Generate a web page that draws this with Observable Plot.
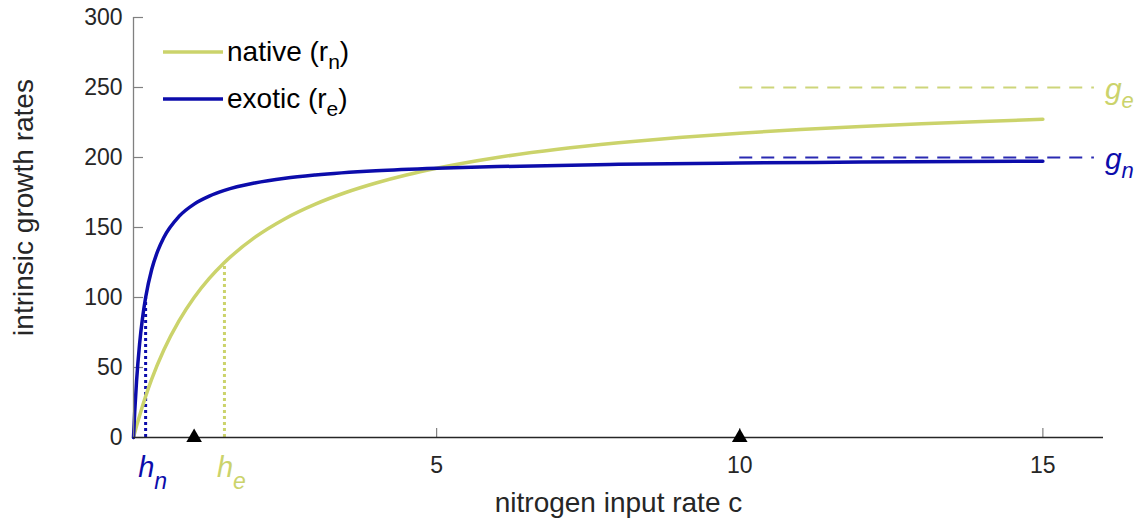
<!DOCTYPE html>
<html>
<head>
<meta charset="utf-8">
<script src="https://cdn.jsdelivr.net/npm/d3@7"></script>
<script src="https://cdn.jsdelivr.net/npm/@observablehq/plot@0.6"></script>
<style>
  html, body { margin: 0; padding: 0; background: #ffffff; }
  #chart svg { display: block; }
</style>
</head>
<body>
<div id="chart"></div>
<script>
// ---- data ----
const nativeX = [0, 0.05, 0.1, 0.2, 0.3, 0.5, 0.75, 1, 1.25, 1.5, 2, 2.5, 3, 3.5, 4, 4.5, 5, 6, 7, 8, 9, 10, 11, 12, 13, 14, 15];
const nativeY = [0, 8.1, 15.6, 29.4, 41.7, 62.5, 83.3, 100, 113.6, 125, 142.9, 156.3, 166.7, 175, 181.8, 187.5, 192.3, 200, 205.9, 210.5, 214.3, 217.4, 220, 222.2, 224.1, 225.8, 227.3];
const exoticX = [0, 0.02, 0.05, 0.1, 0.15, 0.2, 0.3, 0.4, 0.5, 0.75, 1, 1.25, 1.5, 2, 2.5, 3, 4, 5, 6, 8, 10, 12, 15];
const exoticY = [0, 18.2, 40, 66.7, 85.7, 100, 120, 133.3, 142.9, 157.9, 166.7, 172.4, 176.5, 181.8, 185.2, 187.5, 190.5, 192.3, 193.5, 195.1, 196.1, 196.7, 197.4];

const seriesNames = ["native", "exotic"];
const seriesColors = ["#cbd36b", "#0c0cab"];
const dashColors = ["#cdd57a", "#2a2ab2"];

const gLevels = [250, 200];          // asymptotes g_e, g_n
const gNames = ["g", "g"];
const gSubs = ["e", "n"];
const gStart = 10, gEnd = 15.85;

const hValues = [0.2, 1.5];          // half-saturation h_n, h_e
const hHeights = [100, 125];
const hSubs = ["n", "e"];
const hColors = ["#0c0cab", "#cbd36b"];

const markerX = [1, 10];

const xTicks = [0, 5, 10, 15];
const xTickLabels = [5, 10, 15];
const yTicks = [0, 50, 100, 150, 200, 250, 300];

const xLabel = "nitrogen input rate c";
const yLabel = "intrinsic growth rates";

// ---- tables ----
const nativeData = nativeX.map((x, i) => ({x, y: nativeY[i]}));
const exoticData = exoticX.map((x, i) => ({x, y: exoticY[i]}));
const gData = gLevels.map((y, i) => ({y, color: dashColors[i]}));
const hData = hValues.map((x, i) => ({x, h: hHeights[i], color: hColors[i]}));

const W = 1138, H = 518;
const mL = 133, mR = 35, mT = 17, mB = 81;
const innerW = W - mL - mR, innerH = H - mT - mB;
const FONT = "'Liberation Sans', Arial, Helvetica, sans-serif";

const svg = Plot.plot({
  width: W, height: H,
  marginLeft: mL, marginRight: mR, marginTop: mT, marginBottom: mB,
  style: {fontFamily: FONT, background: "#ffffff", color: "#262626", overflow: "visible"},
  x: {domain: [0, 16], label: null},
  y: {domain: [0, 300], label: null},
  marks: [
    Plot.axisY(yTicks, {tickSize: 0, tickPadding: 11, fontSize: 23, fill: "#262626", label: null}),
    Plot.axisX(xTickLabels, {tickSize: 0, tickPadding: 19, fontSize: 23, fill: "#262626", label: null}),
    Plot.tickY(yTicks, {y: d => d, stroke: "#808080", strokeWidth: 1.2, insetRight: innerW - 10}),
    Plot.tickX(xTicks, {x: d => d, stroke: "#808080", strokeWidth: 1.2, insetTop: innerH - 9}),
    Plot.ruleY(gData, {y: "y", x1: gStart, x2: gEnd, stroke: "color", strokeWidth: 2, strokeDasharray: "13,9"}),
    Plot.ruleX(hData, {x: "x", y1: 0, y2: "h", stroke: "color", strokeWidth: 3, strokeDasharray: "3,3"}),
    Plot.line(nativeData, {x: "x", y: "y", stroke: seriesColors[0], strokeWidth: 3.5, curve: "monotone-x"}),
    Plot.line(exoticData, {x: "x", y: "y", stroke: seriesColors[1], strokeWidth: 3.5, curve: "monotone-x"}),
    Plot.ruleX([0], {stroke: "#808080", strokeWidth: 1.3}),
    Plot.ruleY([0], {stroke: "#262626", strokeWidth: 1.3}),
    Plot.dot(markerX, {x: d => d, y: 0, symbol: "triangle", r: 5.8, fill: "#000000", stroke: null}),
    Plot.text([xLabel], {frameAnchor: "bottom", dy: 74, fontSize: 28, fill: "#262626"}),
    Plot.text([yLabel], {frameAnchor: "left", textAnchor: "middle", rotate: -90, dx: -109, dy: -20, fontSize: 28, fill: "#262626"})
  ]
});

const xs = svg.scale("x"), ys = svg.scale("y");
const root = d3.select(svg);

// subscripted labels g_e, g_n
gLevels.forEach((g, i) => {
  const t = root.append("text")
    .attr("text-anchor", "start")
    .attr("x", xs.apply(gEnd) + 11)
    .attr("y", ys.apply(g) + 12)
    .attr("font-family", FONT)
    .attr("font-style", "italic")
    .attr("font-size", 30)
    .attr("fill", seriesColors[i === 0 ? 0 : 1]);
  t.append("tspan").text(gNames[i]);
  t.append("tspan").attr("font-size", 22).attr("dy", 9).text(gSubs[i]);
});

// subscripted labels h_n, h_e
hValues.forEach((h, i) => {
  const t = root.append("text")
    .attr("text-anchor", "start")
    .attr("x", xs.apply(h) - 7)
    .attr("y", ys.apply(0) + 40)
    .attr("font-family", FONT)
    .attr("font-style", "italic")
    .attr("font-size", 29)
    .attr("fill", hColors[i]);
  t.append("tspan").text("h");
  t.append("tspan").attr("font-size", 23).attr("dy", 12).text(hSubs[i]);
});

// legend
const legendRows = [
  {name: "native (r", sub: "n", color: seriesColors[0], y: 52},
  {name: "exotic (r", sub: "e", color: seriesColors[1], y: 99}
];
const lg = root.append("g");
legendRows.forEach(r => {
  lg.append("line").attr("x1", 163).attr("x2", 223).attr("y1", r.y).attr("y2", r.y)
    .attr("stroke", r.color).attr("stroke-width", 3.5);
  const t = lg.append("text").attr("text-anchor", "start").attr("x", 227).attr("y", r.y + 9)
    .attr("font-family", FONT).attr("font-size", 28).attr("fill", "#000000");
  t.append("tspan").text(r.name);
  t.append("tspan").attr("font-size", 21).attr("dy", 8).text(r.sub);
  t.append("tspan").attr("dy", -8).text(")");
});

document.getElementById("chart").appendChild(svg);
</script>
</body>
</html>
